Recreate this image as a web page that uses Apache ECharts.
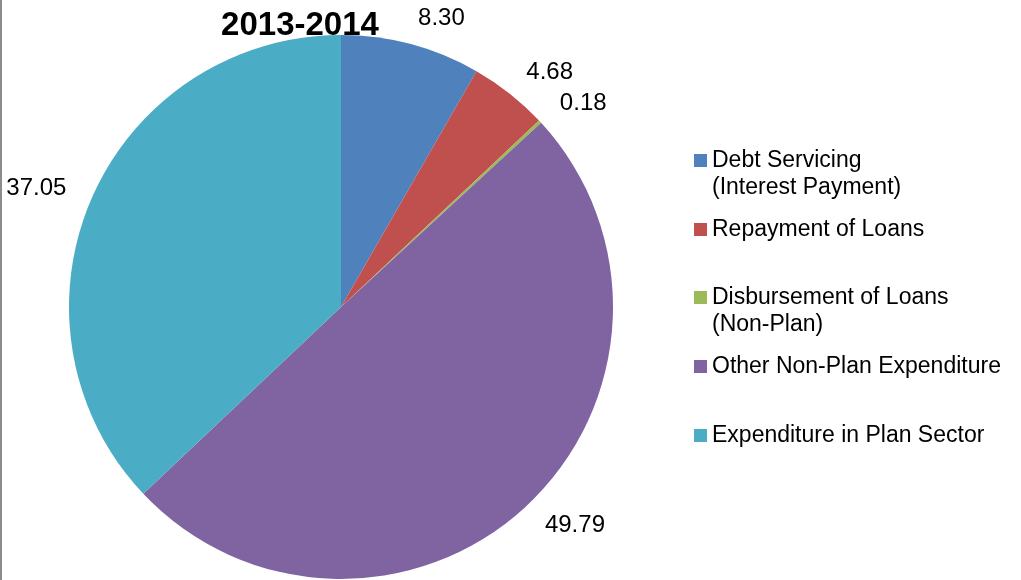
<!DOCTYPE html>
<html>
<head>
<meta charset="utf-8">
<script src="https://cdn.jsdelivr.net/npm/echarts@6/dist/echarts.min.js"></script>
<style>
  html, body { margin: 0; padding: 0; background: #fff; }
  #chart { width: 1021px; height: 580px; }
</style>
</head>
<body>
<div id="chart"></div>
<script>
// expenditure shares, 2013-2014
const categories = [
    'Debt Servicing\n(Interest Payment)',
    'Repayment of Loans',
    'Disbursement of Loans\n(Non-Plan)',
    'Other Non-Plan Expenditure',
    'Expenditure in Plan Sector'
]
const shares = [8.30, 4.68, 0.18, 49.79, 37.05]
const colors = ['#4F81BD', '#C0504D', '#9BBB59', '#8064A2', '#4BACC6']
const legendTops = [120, 216, 257, 353, 422]

const font = "'Liberation Sans', Arial, sans-serif"
const lineH = 27

const chart = echarts.init(document.getElementById('chart'))

// one legend per entry so the squares keep an even step;
// two-line names get a blank first line so the square sits on line one
const legends = categories.map((name, i) => ({
    orient: 'vertical',
    left: 694,
    top: legendTops[i],
    padding: 0,
    icon: 'rect',
    itemWidth: 13,
    itemHeight: 13,
    itemGap: 0,
    selectedMode: false,
    data: [name],
    formatter: n => (n.indexOf('\n') >= 0 ? '\n' + n : n),
    textStyle: {
        fontFamily: font,
        fontSize: 23,
        color: '#000',
        lineHeight: lineH
    }
}))

chart.setOption({
    animation: false,
    color: colors,
    title: {
        text: '2013-2014',
        left: 295,
        textAlign: 'center',
        top: 4,
        textStyle: {
            fontFamily: font,
            fontSize: 33,
            fontWeight: 'bold',
            color: '#000'
        }
    },
    legend: legends,
    graphic: [{
        type: 'rect',
        shape: { x: 0, y: 0, width: 2, height: 580 },
        style: { fill: '#8c8c8c' }
    }],
    series: [{
        type: 'pie',
        center: [341, 307],
        radius: 272,
        startAngle: 90,
        clockwise: true,
        avoidLabelOverlap: false,
        itemStyle: { borderWidth: 0 },
        label: {
            show: true,
            position: 'outside',
            formatter: p => p.value.toFixed(2),
            fontFamily: font,
            fontSize: 24,
            color: '#000',
            distanceToLabelLine: 0
        },
        labelLine: { show: false, length: 27, length2: 0 },
        emphasis: { disabled: true },
        data: categories.map((name, i) => ({ name: name, value: shares[i] }))
    }]
})
</script>
</body>
</html>
